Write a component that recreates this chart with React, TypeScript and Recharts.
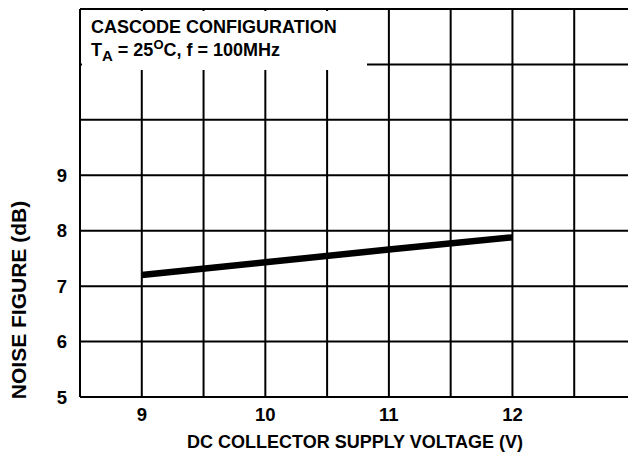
import React from 'react';
import { LineChart, Line, XAxis, YAxis, CartesianGrid } from 'recharts';

// supply voltage (V) vs noise figure (dB)
const voltage = [9, 10, 11, 12];
const noiseFigure = [7.2, 7.43, 7.66, 7.88];

const xTicks = [8.5, 9, 9.5, 10, 10.5, 11, 11.5, 12, 12.5, 13];
const yTicks = [5, 6, 7, 8, 9, 10, 11, 12];
const xTickLabels = [9, 10, 11, 12];
const yTickLabels = [5, 6, 7, 8, 9];

const xTitle = 'DC COLLECTOR SUPPLY VOLTAGE (V)';
const yTitle = 'NOISE FIGURE (dB)';

const FONT = '"Liberation Sans", Arial, Helvetica, sans-serif';

const data = voltage.map((v, i) => ({ v, nf: noiseFigure[i] }));

const tickStyle = { fill: '#000', fontSize: 18.5, fontWeight: 'bold', fontFamily: FONT };

export default function App() {
  return (
    <div style={{ position: 'absolute', left: 0, top: 0, width: 628, height: 453, overflow: 'hidden', background: '#fff' }}>
      <LineChart width={660} height={453} data={data} margin={{ top: 9, right: 24, bottom: 26, left: 10 }}>
        <CartesianGrid stroke="#000" strokeWidth={2} />
        <XAxis
          type="number"
          dataKey="v"
          domain={[8.5, 13]}
          ticks={xTicks}
          interval={0}
          height={30}
          tickSize={0}
          tickMargin={11}
          tickLine={false}
          axisLine={{ stroke: '#000', strokeWidth: 2 }}
          tick={tickStyle}
          tickFormatter={(t: number) => (xTickLabels.includes(t) ? String(t) : '')}
          label={{
            content: () => (
              <text x={355} y={448} textAnchor="middle" fill="#000" fontSize={18} fontWeight="bold" fontFamily={FONT}>
                {xTitle}
              </text>
            ),
          }}
        />
        <YAxis
          type="number"
          domain={[5, 12]}
          ticks={yTicks}
          interval={0}
          width={70}
          tickSize={0}
          tickMargin={13}
          tickLine={false}
          axisLine={{ stroke: '#000', strokeWidth: 2 }}
          tick={tickStyle}
          tickFormatter={(t: number) => (yTickLabels.includes(t) ? String(t) : '')}
          label={{
            content: () => (
              <text
                x={26}
                y={300}
                transform="rotate(-90 26 300)"
                textAnchor="middle"
                fill="#000"
                fontSize={21}
                fontWeight="bold"
                fontFamily={FONT}
              >
                {yTitle}
              </text>
            ),
          }}
        />
        <Line
          type="linear"
          dataKey="nf"
          stroke="#000"
          strokeWidth={6.5}
          dot={false}
          activeDot={false}
          isAnimationActive={false}
        />
      </LineChart>
      {/* condition box sits over the grid in the upper left corner */}
      <svg width={628} height={453} style={{ position: 'absolute', left: 0, top: 0, pointerEvents: 'none' }}>
        <rect x={82} y={11} width={285} height={59} fill="#fff" />
        <text x={91} y={33} fill="#000" fontSize={18} fontWeight="bold" fontFamily={FONT}>
          CASCODE CONFIGURATION
        </text>
        <text x={91} y={56} fill="#000" fontSize={18} fontWeight="bold" fontFamily={FONT}>
          <tspan>T</tspan>
          <tspan dy={5} fontSize={15}>A</tspan>
          <tspan dy={-5}> = 25</tspan>
          <tspan dy={-7} fontSize={13}>O</tspan>
          <tspan dy={7}>C, f = 100MHz</tspan>
        </text>
      </svg>
    </div>
  );
}
